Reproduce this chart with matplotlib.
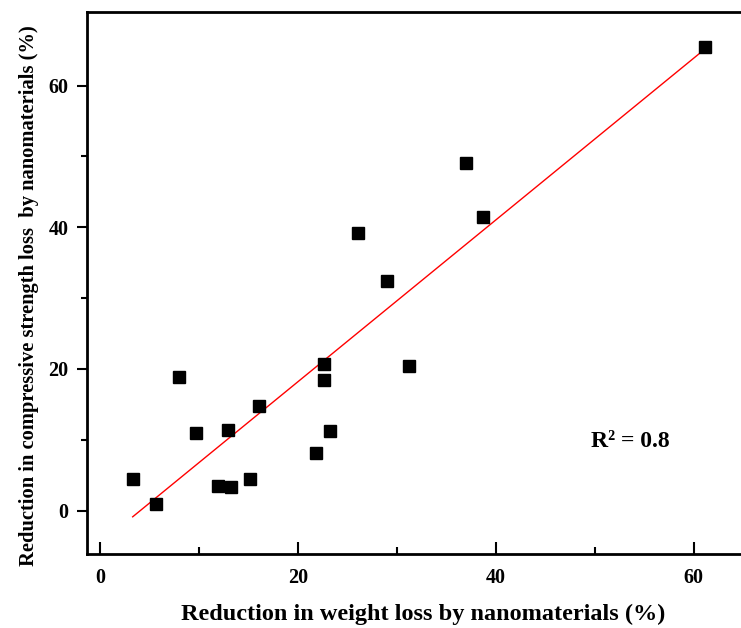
import numpy as np
import matplotlib.pyplot as plt

# weight-loss reduction vs compressive-strength-loss reduction (%)
weight_loss = [3.3, 5.7, 8.0, 9.7, 11.9, 12.9, 13.2, 15.2, 16.1, 21.8,
               22.6, 22.6, 23.2, 26.1, 29.0, 31.2, 37.0, 38.7, 61.2]
strength_loss = [4.5, 1.0, 18.8, 10.9, 3.5, 11.4, 3.4, 4.5, 14.8, 8.1,
                 20.7, 18.5, 11.3, 39.2, 32.4, 20.4, 49.1, 41.4, 65.4]
r2_label = 'R² = 0.8'

plt.rcParams['font.family'] = ['Liberation Serif', 'DejaVu Serif']
plt.rcParams['font.weight'] = 'bold'

fig = plt.figure(figsize=(7.41, 6.28), dpi=100)
ax = fig.add_axes([0.117, 0.118, 0.883, 0.863])

x = np.array(weight_loss)
y = np.array(strength_loss)
ax.plot(x, y, 's', color='black', markersize=8, zorder=3)

# linear fit
k, b = np.polyfit(x, y, 1)
xf = np.array([x.min(), x.max()])
ax.plot(xf, k * xf + b, color='red', lw=1, zorder=2)

ax.text(53.6, 9.8, r2_label, fontsize=17, fontweight='bold',
        ha='center', va='center')

ax.set_xlim(-1.35, 64.8)
ax.set_ylim(-6.1, 70.4)
ax.set_xticks([0, 20, 40, 60])
ax.set_xticks([10, 30, 50], minor=True)
ax.set_yticks([0, 20, 40, 60])
ax.set_yticks([10, 30, 50], minor=True)

ax.tick_params(axis='x', which='major', direction='in', length=9, width=1.5,
               labelsize=14.5, pad=10)
ax.tick_params(axis='x', which='minor', direction='in', length=5, width=1.5)
ax.tick_params(axis='y', which='major', direction='out', length=7, width=1.5,
               labelsize=14.5, pad=6)
ax.tick_params(axis='y', which='minor', direction='out', length=4.5, width=1.5)

for side in ['left', 'bottom', 'top']:
    ax.spines[side].set_linewidth(2)
ax.spines['right'].set_visible(False)

ax.set_xlabel('Reduction in weight loss by nanomaterials (%)', fontsize=17.5,
              fontweight='bold')
ax.xaxis.set_label_coords(0.514, -0.092)
ax.set_ylabel('Reduction in compressive strength loss  by nanomaterials (%)',
              fontsize=14.8, fontweight='bold')
ax.yaxis.set_label_coords(-0.073, 0.476)

fig.savefig('out.png', dpi=100)
